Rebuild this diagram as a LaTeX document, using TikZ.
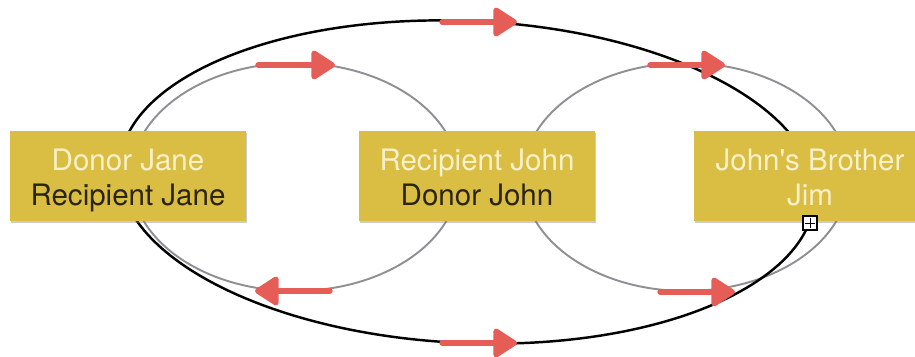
\documentclass[tikz,border=0pt]{standalone}
\usepackage{fontspec}
\setmainfont{TeX Gyre Heros}
\usetikzlibrary{arrows.meta,shadows}
\definecolor{boxgold}{HTML}{DABD43}
\definecolor{lighttext}{HTML}{F8F0C8}
\definecolor{darktext}{HTML}{2A2512}
\definecolor{loopgray}{HTML}{909094}
\definecolor{arrowred}{HTML}{E65C57}
\newcommand{\pairtext}[2]{\rule{0pt}{17pt}#1\\#2\rule[-3pt]{0pt}{3pt}}

\begin{document}
\begin{tikzpicture}[x=0.02cm,y=-0.02cm]
  \tikzstyle{person}=[fill=boxgold, minimum width=4.72cm, minimum height=1.8cm, inner sep=0pt, align=center,
    font=\fontsize{16.8}{20}\selectfont, drop shadow={shadow xshift=0.8pt, shadow yshift=-1.4pt, opacity=0.4}]
  \tikzstyle{hand}=[arrowred, line width=3pt, line cap=round, -{Triangle[length=0.52cm,width=0.64cm,round]}]
  \useasboundingbox (0,0) rectangle (915,356);
  % exchange loops
  \draw [loopgray, line width=1.1pt] (295,177) ellipse [x radius=164, y radius=114];
  \draw [loopgray, line width=1.1pt] (686,177) ellipse [x radius=163, y radius=114];
  \draw [black, line width=1.4pt] (467,182) ellipse [x radius=348, y radius=161, rotate=-2.6];
  % people
  \node [person] (jane) at (128,176) {\pairtext{\textcolor{lighttext}{Donor Jane}}{\textcolor{darktext}{Recipient Jane}}};
  \node [person] (john) at (477,176) {\pairtext{\textcolor{lighttext}{Recipient John}}{\textcolor{darktext}{Donor John}}};
  \node [person, minimum width=4.64cm] (jim) at (810,176) {\pairtext{\textcolor{lighttext}{John\textquotesingle s Brother}}{\textcolor{lighttext}{Jim}}};
  % flow arrows
  \draw [hand] (442,22) -- (517,22);
  \draw [hand] (258,65) -- (335,65);
  \draw [hand] (650,65) -- (725,65);
  \draw [hand] (330,291) -- (255,291);
  \draw [hand] (442,343) -- (517,343);
  \draw [hand] (660,292) -- (735,292);
  % expand handle
  \node [draw=black, fill=white, line width=0.6pt, minimum size=0.28cm, inner sep=0pt] (handle) at (810,223) {};
  \draw [line width=0.5pt] ([xshift=1.2pt]handle.west) -- ([xshift=-1.2pt]handle.east);
  \draw [line width=0.5pt] ([yshift=-1.2pt]handle.north) -- ([yshift=1.2pt]handle.south);
\end{tikzpicture}
\end{document}
